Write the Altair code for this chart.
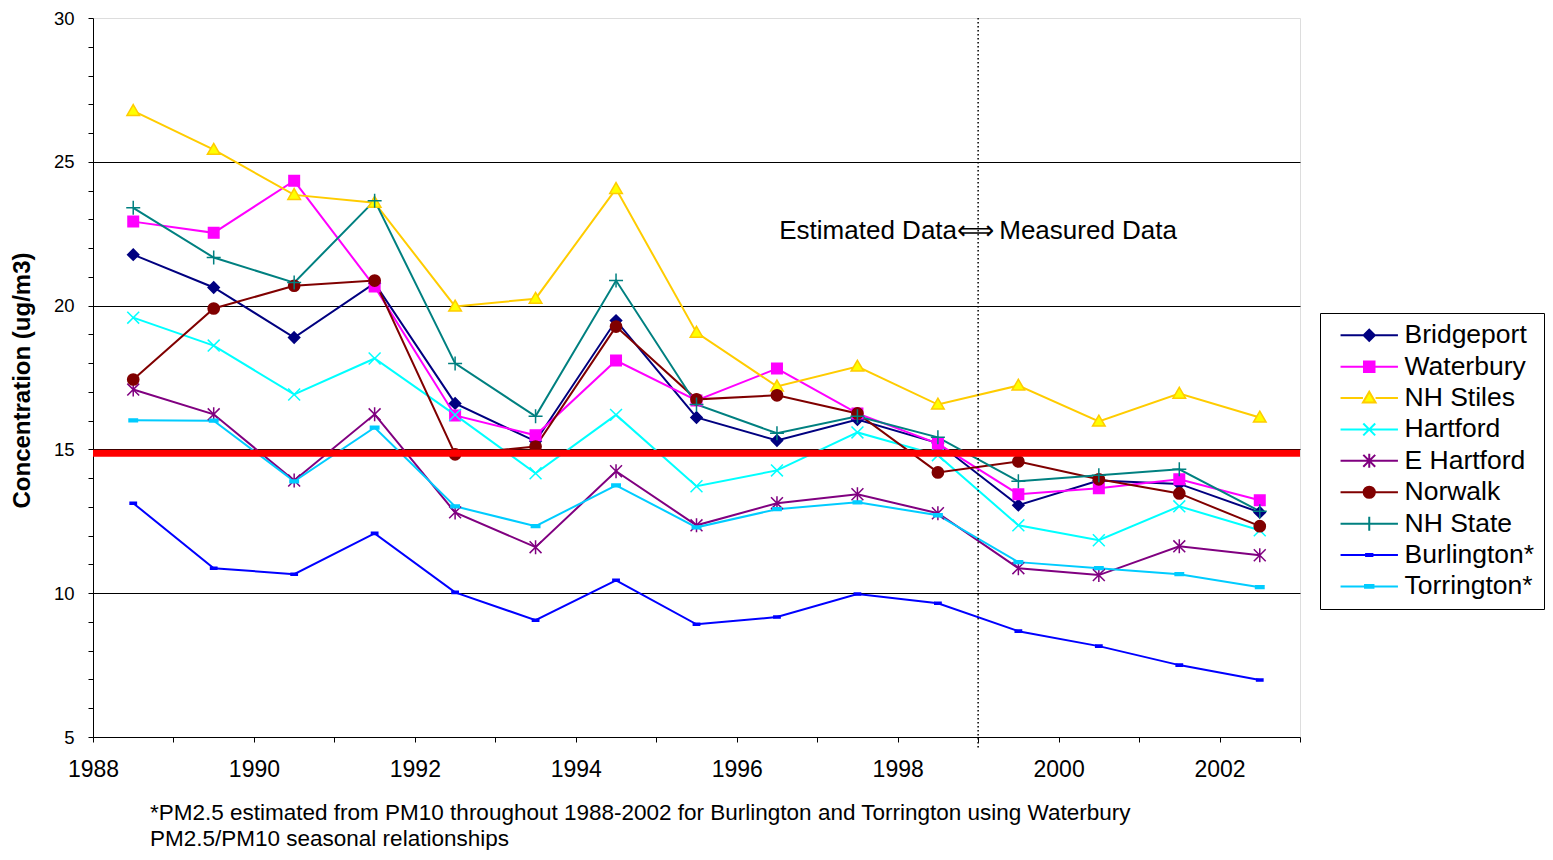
import altair as alt
import pandas as pd

# ---------------- data ----------------
years = [1988.5, 1989.5, 1990.5, 1991.5, 1992.5, 1993.5, 1994.5, 1995.5,
         1996.5, 1997.5, 1998.5, 1999.5, 2000.5, 2001.5, 2002.5]

series_names = ["Bridgeport", "Waterbury", "NH Stiles", "Hartford", "E Hartford",
                "Norwalk", "NH State", "Burlington*", "Torrington*"]

bridgeport = [21.77, 20.63, 18.89, 20.78, 16.60, 15.28, 19.48, 16.11, 15.31, 16.04, 15.22, 13.06, 13.92, 13.80, 12.81]
waterbury = [22.92, 22.53, 24.34, 20.66, 16.18, 15.49, 18.09, 16.70, 17.81, 16.25, 15.20, 13.44, 13.65, 13.96, 13.23]
nh_stiles = [26.77, 25.42, 23.85, 23.58, 19.97, 20.24, 24.06, 19.06, 17.19, 17.88, 16.56, 17.22, 15.97, 16.94, 16.11]
hartford = [19.58, 18.61, 16.91, 18.16, 16.20, 14.17, 16.20, 13.72, 14.27, 15.59, 14.80, 12.36, 11.84, 13.02, 12.19]
e_hartford = [17.08, 16.22, 13.92, 16.22, 12.81, 11.60, 14.24, 12.36, 13.13, 13.44, 12.78, 10.87, 10.63, 11.63, 11.32]
norwalk = [17.43, 19.90, 20.69, 20.87, 14.83, 15.10, 19.27, 16.74, 16.88, 16.25, 14.20, 14.58, 13.96, 13.47, 12.33]
nh_state = [23.40, 21.67, 20.80, 23.65, 17.99, 16.15, 20.87, 16.56, 15.56, 16.15, 15.42, 13.89, 14.10, 14.31, 12.85]
burlington = [13.13, 10.87, 10.66, 12.08, 10.03, 9.06, 10.45, 8.92, 9.17, 9.97, 9.65, 8.68, 8.16, 7.50, 6.98]
torrington = [16.01, 16.00, 13.89, 15.76, 13.02, 12.33, 13.75, 12.29, 12.92, 13.16, 12.71, 11.08, 10.87, 10.66, 10.21]

all_values = [bridgeport, waterbury, nh_stiles, hartford, e_hartford,
              norwalk, nh_state, burlington, torrington]

standard_level = [14.87]          # thick red reference line
divider_year = [1999]             # estimated / measured divider
x_tick_values = list(range(1988, 2004))
y_tick_values = list(range(5, 31))
annotation_text = ["Estimated Data\u27fa\u2009Measured Data"]
annotation_pos = [(1999, 22.6)]
footnote = ["*PM2.5 estimated from PM10 throughout 1988-2002 for Burlington and Torrington using Waterbury",
            "PM2.5/PM10 seasonal relationships"]

# ---------------- styles ----------------
line_colors = ["#000080", "#FF00FF", "#FFCC00", "#00FFFF", "#800080",
               "#800000", "#008080", "#0000FF", "#00CCFF"]
fill_colors = ["#000080", "#FF00FF", "#FFFF00", "#00FFFF", "#800080",
               "#800000", "#008080", "#0000FF", "#00CCFF"]

diamond = "M0,-0.8L0.8,0L0,0.8L-0.8,0Z"
square = "M-0.75,-0.75H0.75V0.75H-0.75Z"
triangle = "M0,-0.9L0.9,0.65H-0.9Z"
xcross = "M-0.85,-0.85L0.85,0.85M-0.85,0.85L0.85,-0.85"
asterisk = "M-0.85,-0.85L0.85,0.85M-0.85,0.85L0.85,-0.85M0,-1V1"
circle = "M-0.8,0A0.8,0.8,0,1,1,0.8,0A0.8,0.8,0,1,1,-0.8,0Z"
plus = "M-1,0H1M0,-1V1"
dash_b = "M-0.45,-0.15H0.45V0.15H-0.45Z"
dash_t = "M-0.6,-0.2H0.6V0.2H-0.6Z"
marker_paths = [diamond, square, triangle, xcross, asterisk, circle, plus, dash_b, dash_t]
marker_half = [0.8, 0.75, 0.9, None, None, 0.8, None, None, None]


def legend_path(marker, half):
    if half is None:
        stub = "M-4.1,0H4.1"
    else:
        stub = f"M-4.1,0H{-half}M{half},0H4.1"
    return stub + marker


legend_paths = [legend_path(m, h) for m, h in zip(marker_paths, marker_half)]

FONT = "Liberation Sans"

rows = []
for name, vals in zip(series_names, all_values):
    for yr, v in zip(years, vals):
        rows.append({"year": yr, "value": v, "series": name})
df = pd.DataFrame(rows)

x_scale = alt.Scale(domain=[1988, 2003], nice=False, zero=False)
y_scale = alt.Scale(domain=[5, 30], nice=False, zero=False)

x_axis = alt.Axis(values=x_tick_values,
                  labelExpr="datum.value % 2 == 0 && datum.value < 2003 ? format(datum.value, 'd') : ''",
                  grid=False, tickSize=5, tickColor="black", domainColor="black",
                  labelFont=FONT, labelFontSize=23, labelColor="black",
                  labelPadding=16, labelFlush=False, labelOverlap=False)
y_axis = alt.Axis(values=y_tick_values,
                  labelExpr="datum.value % 5 == 0 ? datum.value : ''",
                  grid=True, gridColor="black", gridWidth=1,
                  gridOpacity={"condition": {"test": "datum.value % 5 == 0 && datum.value > 5 && datum.value < 30",
                                             "value": 1}, "value": 0},
                  tickSize=5, tickColor="black", domainColor="black",
                  labelFont=FONT, labelFontSize=18.5, labelColor="black",
                  labelPadding=14, labelOverlap=False,
                  titleFont=FONT, titleFontSize=24, titleFontWeight="bold",
                  titleColor="black", titleAngle=-90, titleAlign="center",
                  titleBaseline="middle", titleX=-71, titleY=362)


def xe():
    return alt.X("year:Q", scale=x_scale, title=None, axis=x_axis)


def ye():
    return alt.Y("value:Q", scale=y_scale, title="Concentration (ug/m3)", axis=y_axis)


base = alt.Chart(df)

lines = base.mark_line(strokeWidth=2).encode(
    x=xe(), y=ye(),
    color=alt.Color("series:N", scale=alt.Scale(domain=series_names, range=line_colors), legend=None),
    detail="series:N",
    order="year:Q",
)

points = base.mark_point(filled=True, size=196, strokeWidth=1.5, opacity=1).encode(
    x=xe(), y=ye(),
    shape=alt.Shape("series:N", scale=alt.Scale(domain=series_names, range=marker_paths), legend=None),
    fill=alt.Fill("series:N", scale=alt.Scale(domain=series_names, range=fill_colors), legend=None),
    stroke=alt.Stroke("series:N", scale=alt.Scale(domain=series_names, range=line_colors), legend=None),
)

leg = alt.Legend(title=" ", titleOrient="left", titleFontSize=1, titlePadding=27,
                 orient="none", legendX=1227, legendY=295,
                 direction="vertical", columns=1,
                 labelFont=FONT, labelFontSize=26.5, labelColor="black",
                 labelOffset=22, rowPadding=4.4, padding=9,
                 symbolSize=196, symbolStrokeWidth=2,
                 strokeColor="black", fillColor="white")

legend_layer = base.transform_filter("datum.value < 0").mark_point(
    filled=True, size=196, strokeWidth=2, opacity=1).encode(
    x=xe(), y=ye(),
    shape=alt.Shape("series:N", scale=alt.Scale(domain=series_names, range=legend_paths), legend=leg),
    fill=alt.Fill("series:N", scale=alt.Scale(domain=series_names, range=fill_colors), legend=leg),
    stroke=alt.Stroke("series:N", scale=alt.Scale(domain=series_names, range=line_colors), legend=leg),
)

red_df = pd.DataFrame({"value": standard_level, "year": [1988], "year2": [2003]})
red_line = alt.Chart(red_df).mark_rule(color="#FF0000", strokeWidth=7).encode(
    x=xe(), x2="year2:Q", y=ye())

div_df = pd.DataFrame({"year": divider_year, "value": [30], "value2": [4.6]})
divider = alt.Chart(div_df).mark_rule(color="black", strokeWidth=1.5, strokeDash=[1.5, 2.5]).encode(
    x=xe(), y=ye(), y2="value2:Q")

ann_df = pd.DataFrame({"year": [p[0] for p in annotation_pos], "value": [p[1] for p in annotation_pos],
                       "label": annotation_text})
annotation = alt.Chart(ann_df).mark_text(font=FONT, fontSize=26, color="black",
                                         align="center", baseline="middle").encode(
    x=xe(), y=ye(), text="label:N")

chart = alt.layer(lines, points, legend_layer, divider, red_line, annotation).resolve_scale(
    shape="independent", fill="independent", stroke="independent"
).properties(
    width=1207, height=719,
    autosize=alt.AutoSizeParams(type="none"),
    padding={"left": 85, "top": 10, "right": 245, "bottom": 113},
    title=alt.TitleParams(text=footnote, orient="bottom", anchor="start", frame="group",
                          offset=21, dx=57, font=FONT, fontSize=22.5, fontWeight="normal",
                          color="black", lineHeight=26, baseline="top"),
).configure_view(stroke="#808080", strokeWidth=1).configure(background="white")

chart.save("out.html", embed_options={"renderer": "svg", "actions": False})
